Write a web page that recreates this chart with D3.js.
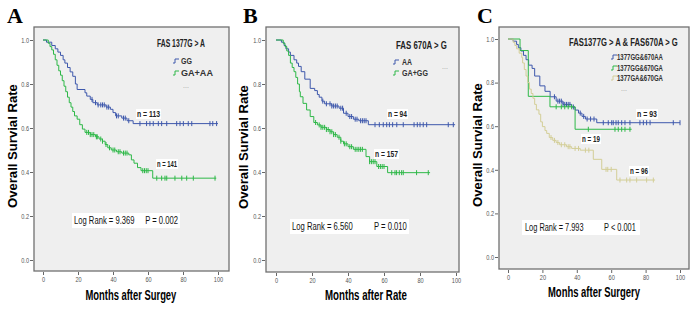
<!DOCTYPE html>
<html>
<head>
<meta charset="utf-8">
<script src="https://cdn.jsdelivr.net/npm/d3@7"></script>
<style>
  body { margin: 0; background: #fff; }
  text { font-family: "Liberation Sans", Arial, sans-serif; }
  .tick text { font-size: 7px; fill: #555; }
  .tick line { stroke: #666; }
</style>
</head>
<body>
<div id="chart-area"></div>
<script>

// ---- data: [month, survival] at each drop, plus censor months ----

// A: FAS 1377G > A
let aGGSteps = [[2,0.99],[5,0.975],[7,0.96],[8.5,0.945],[10,0.93],[11.5,0.91],[12.5,0.895],[14,0.875],[15.5,0.855],[17,0.835],[18.5,0.8],[19.5,0.775],[24,0.76],[25,0.745],[27,0.73],[28.5,0.715],[31,0.705],[36,0.695],[38.5,0.685],[40,0.67],[41.5,0.655],[45,0.645],[48,0.633],[51.5,0.62]];
let aGGCensor = [28,30,31.5,33,34,35,36.5,37.5,42,43,46,47,49,55.4,59.2,61.1,63,65.9,67.8,70.7,76.4,78.3,80.2,83,85,95.4,97,99.2];
let aGGEnd = 100;

let aGAAASteps = [[3,0.985],[4,0.97],[5,0.955],[6,0.935],[7,0.91],[8,0.885],[9,0.86],[10,0.84],[11,0.815],[12,0.79],[13,0.765],[14,0.74],[15,0.715],[16,0.695],[17,0.675],[18,0.655],[19.5,0.64],[21,0.615],[22.5,0.595],[24,0.58],[27,0.57],[30,0.56],[32,0.55],[34,0.54],[35.5,0.525],[37,0.51],[39,0.5],[42,0.492],[45,0.486],[49,0.478],[50.5,0.455],[52,0.44],[54,0.42],[56,0.406],[62.7,0.372]];
let aGAAACensor = [25,26,27,28,29,30.5,31,33,34,36,38,40,41,43,44,46,47,48,57,58,59,60,65,67.8,69.7,70.7,75.4,79.3,82.1,85.9,98.3];
let aGAAAEnd = 99;

// B: FAS 670A > G
let bAASteps = [[3,0.99],[4.5,0.975],[5.5,0.96],[7,0.945],[8,0.93],[10,0.91],[11.5,0.895],[12.5,0.88],[14,0.856],[16,0.822],[19,0.78],[21.5,0.77],[23,0.752],[24,0.74],[25.5,0.722],[27,0.71],[31,0.7],[35,0.69],[37.5,0.667],[40,0.652],[43,0.64],[46,0.633],[51.3,0.615]];
let bAACensor = [26,28,30,31,32,33,34,36,37,39,41,42,44,45,47,48,49,50,55,57.4,59.6,61.5,63,64.8,67.1,70.7,76.7,78.5,80,81.8,83.7,95.7,98.5];
let bAAEnd = 99.5;

let bGAGGSteps = [[4,0.985],[5,0.97],[6,0.95],[7,0.93],[8,0.895],[9,0.875],[10,0.856],[11,0.83],[12,0.8],[13,0.765],[13.5,0.742],[15,0.712],[17,0.682],[19,0.652],[21,0.625],[23,0.614],[25,0.603],[28,0.593],[30,0.583],[32,0.57],[34,0.558],[36,0.54],[37.5,0.528],[40,0.515],[43,0.503],[50,0.47],[52,0.447],[56,0.425],[62,0.397]];
let bGAGGCensor = [22,24,25,26,27,28,29,30,31,32,33,35,36,38,39,41,42,44,45,46,47,48,52,53,54,55,57,58,59,60,64.3,66.1,67,68.5,69.8,70.7,78.1,84.6];
let bGAGGEnd = 85.6;

// C: combined genotypes
let cGGAASteps = [[3,0.99],[5,0.975],[6,0.96],[7.5,0.945],[9,0.925],[10.5,0.905],[12,0.88],[14,0.865],[15.5,0.83],[18.5,0.785],[21.5,0.76],[24.5,0.735],[28,0.715],[32,0.7],[37,0.688],[39,0.674],[41,0.66],[43,0.645],[45,0.633],[51.6,0.616]];
let cGGAACensor = [27,29,30,31,32,33,34,35,36,38,42,44,46,48,50,55.4,58.3,60.3,61.2,62.8,64.1,66.1,68,70.9,76.7,78.7,80.6,82.6,96.1,100];
let cGGAAEnd = 100;

let cGGGASteps = [[7,0.947],[11.8,0.737],[24.4,0.689],[39,0.586]];
let cGGGACensor = [28,31,33,35,37,46.7,62.2,64.1,66.1,68,70.9];
let cGGGAEnd = 71.9;

let cGAGASteps = [[3,0.985],[4,0.97],[5,0.955],[6.5,0.935],[8,0.915],[8.5,0.89],[9.5,0.86],[10.5,0.83],[11.5,0.8],[12.5,0.77],[13.5,0.75],[14.5,0.728],[15.5,0.7],[16.5,0.675],[18,0.655],[19,0.62],[20,0.598],[21.5,0.58],[22.5,0.567],[24,0.548],[26,0.535],[28,0.525],[30,0.515],[34,0.506],[37,0.498],[42,0.49],[49.6,0.448],[54.5,0.402],[63.2,0.353]];
let cGAGACensor = [25,27,29,31,33,35,36,39,41,45,47,57,58,60,65.1,69,70.9,74.8,80.6,84.5];
let cGAGAEnd = 85.5;

let xTicks = [0, 20, 40, 60, 80, 100];
let yTicks = [0, 0.2, 0.4, 0.6, 0.8, 1.0];

let blue = "#3e58ac", green = "#2eb848", tan = "#d3ce97";

// ---- layout of the three panels (text widths squeezed to match the narrow font) ----
let panels = [
  { letter: "A", lx: 7, frame: [34, 27, 229, 271], xr: [43, 218], yr: [260, 40],
    ylabX: 17, ylabY: 146, xTitle: ["Months after Surgey", 131, 300, 91],
    legTitle: ["FAS 1377G > A", 157, 47, 48], symX: 173, itemX: 181,
    curves: [
      { steps: aGGSteps, censor: aGGCensor, end: aGGEnd, color: blue, name: "GG" },
      { steps: aGAAASteps, censor: aGAAACensor, end: aGAAAEnd, color: green, name: "GA+AA" }],
    itemY: [64, 76], itemW: [11, 32], dots: [183, 88],
    nLabels: [["n = 113", 137, 117, 23], ["n = 141", 157, 167, 20]],
    logRank: ["Log Rank = 9.369     P = 0.002", 74, 104], logY: 224, box: [72, 213, 108, 15] },
  { letter: "B", lx: 243, frame: [266, 27, 459, 272], xr: [276, 456], yr: [260, 40],
    ylabX: 248, ylabY: 147, xTitle: ["Months after Rate", 366, 300, 82],
    legTitle: ["FAS 670A > G", 396, 49, 51], symX: 393, itemX: 402,
    curves: [
      { steps: bAASteps, censor: bAACensor, end: bAAEnd, color: blue, name: "AA" },
      { steps: bGAGGSteps, censor: bGAGGCensor, end: bGAGGEnd, color: green, name: "GA+GG" }],
    itemY: [65, 76], itemW: [10, 26], dots: [442, 69],
    nLabels: [["n = 94", 388, 117, 19], ["n = 157", 375, 157, 23]],
    logRank: ["Log Rank = 6.560          P = 0.010", 292, 115], logY: 230, box: [290, 219, 119, 15] },
  { letter: "C", lx: 477, frame: [499, 27, 689, 269], xr: [508, 680], yr: [257, 39],
    ylabX: 482, ylabY: 145, xTitle: ["Monhs after Surgery", 594, 297, 92],
    legTitle: ["FAS1377G > A & FAS670A > G", 569, 46, 109], symX: 611, itemX: 617,
    curves: [
      { steps: cGGAASteps, censor: cGGAACensor, end: cGGAAEnd, color: blue, name: "1377GG&670AA" },
      { steps: cGGGASteps, censor: cGGGACensor, end: cGGGAEnd, color: green, name: "1377GG&670GA" },
      { steps: cGAGASteps, censor: cGAGACensor, end: cGAGAEnd, color: tan, name: "1377GA&670GA" }],
    itemY: [60, 71, 81], itemW: [46, 46, 46], dots: [621, 91],
    nLabels: [["n = 93", 637, 117, 20], ["n = 19", 582, 142, 18], ["n = 96", 630, 174, 18]],
    logRank: ["Log Rank = 7.993          P < 0.001", 525, 111], logY: 231, box: [522, 220, 118, 15] }
];

let svg = d3.select("#chart-area").append("svg")
    .attr("width", 692)
    .attr("height", 310);

panels.forEach(drawPanel);

function survivalAt(steps, t) {
  let s = 1;
  steps.forEach(d => { if (d[0] <= t) s = d[1]; });
  return s;
}

// text squeezed horizontally to width w, left edge at (x, y); rot = -90 for the y label
function narrowText(g, str, x, y, w, size, weight, rot) {
  let t = g.append("text")
    .attr("x", 0).attr("y", 0)
    .style("font-size", size + "px")
    .style("font-weight", weight || "normal")
    .style("white-space", "pre")
    .text(str);
  let sx = w / t.node().getComputedTextLength();
  t.attr("transform", "translate(" + x + "," + y + ")" + (rot ? " rotate(" + rot + ")" : "") + " scale(" + sx + ",1)");
  return t;
}

function drawPanel(p) {
  let g = svg.append("g");
  let [fx0, fy0, fx1, fy1] = p.frame;

  let x = d3.scaleLinear().domain([0, 100]).range(p.xr);
  let y = d3.scaleLinear().domain([0, 1]).range(p.yr);

  // panel letter
  g.append("text")
    .attr("x", p.lx).attr("y", 23)
    .style("font-family", "'Liberation Serif', 'Times New Roman', serif")
    .style("font-weight", "bold")
    .style("font-size", "22px")
    .text(p.letter);

  // grey plotting box
  g.append("rect")
    .attr("x", fx0).attr("y", fy0)
    .attr("width", fx1 - fx0).attr("height", fy1 - fy0)
    .attr("fill", "#efefef")
    .attr("stroke", "#707070")
    .attr("stroke-width", 1.3);

  // axes
  let xAxis = d3.axisBottom(x).tickValues(xTicks).tickSize(3).tickPadding(2);
  g.append("g")
    .attr("transform", "translate(0," + (fy1 + 1) + ")")
    .call(xAxis)
    .call(a => a.select(".domain").remove())
    .selectAll(".tick text")
    .attr("transform", "scale(0.8,1)")
    .attr("x", 0);

  let yAxis = d3.axisLeft(y).tickValues(yTicks).tickFormat(d3.format(".1f")).tickSize(3).tickPadding(1);
  g.append("g")
    .attr("transform", "translate(" + (fx0 - 1) + ",0)")
    .call(yAxis)
    .call(a => a.select(".domain").remove())
    .selectAll(".tick text")
    .attr("transform", "translate(-4,0) scale(0.8,1) translate(4,0)");

  // axis titles
  narrowText(g, p.xTitle[0], p.xTitle[1] - p.xTitle[3] / 2, p.xTitle[2], p.xTitle[3], 14, "bold");
  narrowText(g, "Overall Survial Rate", p.ylabX, p.ylabY + 62, 124, 12.5, "bold", -90);

  // curves
  let line = d3.line()
    .x(d => x(d[0]))
    .y(d => y(d[1]))
    .curve(d3.curveStepAfter);

  p.curves.forEach(c => {
    let pts = [[0, 1]].concat(c.steps);
    pts.push([c.end, c.steps[c.steps.length - 1][1]]);
    g.append("path")
      .datum(pts)
      .attr("fill", "none")
      .attr("stroke", c.color)
      .attr("stroke-width", 1)
      .attr("d", line);

    g.selectAll(null)
      .data(c.censor)
      .enter().append("line")
      .attr("x1", d => x(d)).attr("x2", d => x(d))
      .attr("y1", d => y(survivalAt(c.steps, d)) - 2.5)
      .attr("y2", d => y(survivalAt(c.steps, d)) + 2.5)
      .attr("stroke", c.color)
      .attr("stroke-width", 1);
  });

  // legend
  narrowText(g, p.legTitle[0], p.legTitle[1], p.legTitle[2], p.legTitle[3], 10, "bold").attr("fill", "#222");

  p.curves.forEach((c, i) => {
    let ly = p.itemY[i];
    g.append("path")
      .attr("d", "M" + p.symX + "," + (ly - 1) + "h2v-4h4")
      .attr("fill", "none")
      .attr("stroke", c.color)
      .attr("stroke-width", 1);
    narrowText(g, c.name, p.itemX, ly, p.itemW[i], 9, "bold").attr("fill", "#333");
  });

  g.append("text")
    .attr("x", p.dots[0]).attr("y", p.dots[1])
    .style("font-size", "7px")
    .attr("fill", "#999")
    .text("...");

  // n labels on white patches
  p.nLabels.forEach(n => {
    g.append("rect")
      .attr("x", n[1] - 1).attr("y", n[2] - 8)
      .attr("width", n[3] + 2).attr("height", 10)
      .attr("fill", "#fff");
    narrowText(g, n[0], n[1], n[2], n[3], 9, "bold").attr("fill", "#222");
  });

  // log-rank box
  g.append("rect")
    .attr("x", p.box[0]).attr("y", p.box[1])
    .attr("width", p.box[2]).attr("height", p.box[3])
    .attr("fill", "#fff");
  narrowText(g, p.logRank[0], p.logRank[1], p.logY, p.logRank[2], 11).attr("fill", "#111");
}

</script>
</body>
</html>
